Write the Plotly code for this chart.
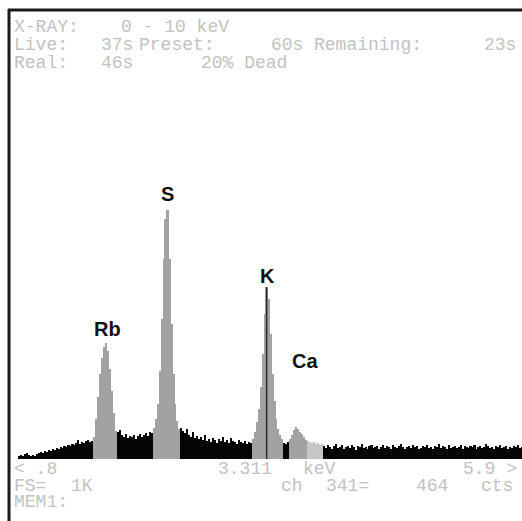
import plotly.graph_objects as go

# ---------------- data ----------------
E_START = 0.80      # keV, left edge of display
E_END = 5.89        # keV, right edge of display
CH_WIDTH = 0.02     # keV per displayed channel
FULL_SCALE = 1210   # counts at top of plotting window

# counts per channel, segment by segment (left to right)
bg_low = [8, 11, 8, 14, 16, 11, 8, 11, 8, 14, 16, 19, 16, 22, 19, 24, 22, 27, 24, 30,
          27, 32, 30, 35, 32, 38, 35, 41, 38, 43, 51, 41, 46, 43, 49, 51, 46, 49]
rb_peak = [59, 108, 167, 230, 273, 302, 313, 292, 243, 184, 124, 76]
bg_mid1 = [73, 78, 65, 59, 68, 57, 62, 59, 65, 54, 62, 68, 59, 65, 70, 62, 73, 70]
s_peak = [84, 108, 149, 238, 378, 540, 648, 672, 540, 365, 230, 149, 103, 81]
bg_mid2 = [84, 76, 70, 81, 65, 59, 73, 57, 62, 54, 59, 51, 65, 49, 54, 46, 57, 51,
           43, 54, 49, 59, 46, 51, 43, 57, 49, 46, 41, 51, 46, 43, 49, 41, 46, 43]
k_peak = [54, 73, 100, 135, 194, 284, 392, 464, 432, 338, 230, 157, 108, 81, 65, 54]
bg_gap = [43, 41, 46]
ca_peak = [54, 65, 78, 86, 81, 73, 68, 59, 51]
ca_tail = [49, 46, 43, 46, 41, 43, 38, 41]
bg_high = [35, 30, 38, 32, 27, 35, 41, 30, 32, 38,
           27, 32, 35, 30, 38, 32, 24, 35, 32, 41,
           30, 32, 27, 35, 38, 30, 32, 35, 27, 32,
           38, 30, 35, 32, 27, 38, 32, 30, 35, 41,
           32, 27, 32, 35, 30, 38, 32, 35, 27, 30,
           35, 32, 38, 30, 32, 27, 35, 32, 41, 30,
           35, 32, 27, 38, 30, 32, 35, 30, 32, 38,
           27, 35, 32, 30, 35, 32, 38, 27, 32, 35,
           30, 32, 41, 35, 30, 32, 27, 35, 32, 38,
           30, 32, 35, 27, 32, 30, 35, 32, 38, 30,
           32]

CURSOR_KEV = 3.311
CURSOR_CTS = 464

LABEL_NAMES = ["Rb", "S", "K", "Ca"]
LABEL_KEV = [1.70, 2.305, 3.315, 3.70]
LABEL_CTS = [351, 716, 494, 265]

# ---------------- styling ----------------
BLACK = "#050505"
ROI = "#a2a2a2"
ROI_LIGHT = "#c6c6c6"
TXT = "#c2c2c2"
MONO = "Liberation Mono, DejaVu Sans Mono, monospace"

W, H = 522, 521
L, R, T, B = 18, 0, 11, 62
PW, PH = W - L - R, H - T - B


def px(xp):
    return (xp - L) / PW


def py(yp):
    return (H - B - yp) / PH


fig = go.Figure()

segments = [(bg_low, BLACK), (rb_peak, ROI), (bg_mid1, BLACK), (s_peak, ROI),
            (bg_mid2, BLACK), (k_peak, ROI), (bg_gap, BLACK), (ca_peak, ROI),
            (ca_tail, ROI_LIGHT), (bg_high, BLACK)]
idx = 0
for vals, col in segments:
    xs = [E_START + (idx + k + 0.5) * CH_WIDTH for k in range(len(vals))]
    fig.add_trace(go.Bar(x=xs, y=vals, width=CH_WIDTH * 1.06,
                         marker=dict(color=col, line=dict(width=0)),
                         hoverinfo="skip", showlegend=False))
    idx += len(vals)

# cursor line
fig.add_trace(go.Scatter(x=[CURSOR_KEV, CURSOR_KEV], y=[0, CURSOR_CTS], mode="lines",
                         line=dict(color="#2a2a2a", width=1.5),
                         hoverinfo="skip", showlegend=False))

# element labels
for name, e, c in zip(LABEL_NAMES, LABEL_KEV, LABEL_CTS):
    fig.add_annotation(x=e, y=c, text=name, showarrow=False, xanchor="center",
                       yanchor="middle",
                       font=dict(family="Liberation Sans, Arial", size=20, color="#111111",
                                 weight="bold"))

# terminal text (pixel placement)
Y1, Y2, Y3 = 27, 45, 63
texts = [
    ("X-RAY:", 13, Y1), ("0 - 10 keV", 120, Y1),
    ("Live:", 13, Y2), ("37s", 100, Y2), ("Preset:", 138, Y2), ("60s", 270, Y2),
    ("Remaining:", 313, Y2), ("23s", 483, Y2),
    ("Real:", 13, Y3), ("46s", 100, Y3), ("20% Dead", 200, Y3),
    ("< .8", 13, 469), ("3.311", 217, 469), ("keV", 302, 469), ("5.9 >", 462, 469),
    ("FS=", 13, 486), ("1K", 70, 486), ("ch", 280, 486), ("341=", 325, 486),
    ("464", 415, 486), ("cts", 480, 486),
    ("MEM1:", 13, 502),
]
for t, xp, yp in texts:
    fig.add_annotation(x=px(xp), y=py(yp), xref="paper", yref="paper", text=t,
                       showarrow=False, xanchor="left", yanchor="middle",
                       borderpad=0,
                       font=dict(family=MONO, size=18, color=TXT))

# frame (left and top borders)
fig.add_shape(type="line", xref="paper", yref="paper", x0=px(9), x1=px(9),
              y0=py(9), y1=py(H + 2), line=dict(color="#1a1a1a", width=3))
fig.add_shape(type="line", xref="paper", yref="paper", x0=px(8), x1=px(W + 2),
              y0=py(10), y1=py(10), line=dict(color="#1a1a1a", width=3))

fig.update_layout(
    width=W, height=H,
    margin=dict(l=L, r=R, t=T, b=B),
    paper_bgcolor="white", plot_bgcolor="white",
    barmode="overlay", bargap=0,
    xaxis=dict(range=[E_START, E_END], visible=False, fixedrange=True),
    yaxis=dict(range=[0, FULL_SCALE], visible=False, fixedrange=True),
    hovermode=False,
)

fig.write_html(
    "out.html",
    config={"displayModeBar": False},
    post_script="document.body.style.margin='0px'; document.body.style.overflow='hidden';",
)
